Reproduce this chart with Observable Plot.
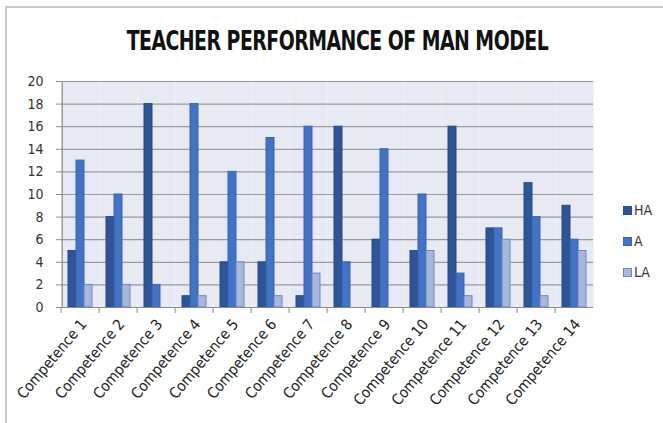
<!DOCTYPE html>
<html>
<head>
<meta charset="utf-8">
<script src="https://cdn.jsdelivr.net/npm/d3@7"></script>
<script src="https://cdn.jsdelivr.net/npm/@observablehq/plot@0.6"></script>
<style>
  html, body { margin: 0; padding: 0; background: #fff; }
  body { width: 663px; height: 423px; position: relative; overflow: hidden; font-family: "DejaVu Sans", sans-serif; font-stretch: condensed; }
  #frame { position: absolute; left: 5px; top: 6px; width: 700px; height: 460px; border-left: 2px solid #c9c9c9; border-top: 2px solid #c9c9c9; }
  #title { position: absolute; left: 0; top: 27px; width: 675px; text-align: center; font-size: 24px; font-weight: bold; color: #111; font-stretch: condensed; letter-spacing: -0.6px; transform: scale(0.875, 1.12); transform-origin: 337px 12px; }
  #chart { position: absolute; left: 0; top: 0; }
  #chart svg text { font-stretch: condensed; }
  #legend { position: absolute; left: 623px; top: 202px; font-size: 14px; color: #333; }
  #legend div { height: 31px; display: flex; align-items: flex-start; }
  #legend span.sw { display: inline-block; width: 9px; height: 9px; margin-right: 2px; margin-top: 4px; box-sizing: border-box; }
</style>
</head>
<body>
<div id="frame"></div>
<div id="title">TEACHER PERFORMANCE OF MAN MODEL</div>
<div id="chart"></div>
<div id="legend"></div>
<script>
const competences = ["Competence 1","Competence 2","Competence 3","Competence 4","Competence 5","Competence 6","Competence 7","Competence 8","Competence 9","Competence 10","Competence 11","Competence 12","Competence 13","Competence 14"];
const seriesNames = ["HA","A","LA"];
const haValues = [5,8,18,1,4,4,1,16,6,5,16,7,11,9];
const aValues  = [13,10,2,18,12,15,16,4,14,10,3,7,8,6];
const laValues = [2,2,0,1,4,1,3,0,0,5,1,6,1,5];
const yTicks = [0,2,4,6,8,10,12,14,16,18,20];
const colors = ["#2f5597","#4472c4","#a8b7de"];
const strokes = ["#264a87","#3963b2","#6f84bd"];

const data = [];
competences.forEach((c, i) => {
  [haValues, aValues, laValues].forEach((arr, j) => {
    data.push({comp: c, series: seriesNames[j], value: arr[i]});
  });
});
const nonZero = data.filter(d => d.value > 0);

const chart = Plot.plot({
  width: 663,
  height: 423,
  marginLeft: 55,
  marginRight: 65,
  marginTop: 81,
  marginBottom: 116,
  style: {fontFamily: "'DejaVu Sans', sans-serif", fontSize: "14px", color: "#333", background: "transparent"},
  fx: {domain: competences, paddingInner: 0, paddingOuter: 0, label: null},
  x: {domain: seriesNames, paddingInner: 0, paddingOuter: 0.643, axis: null},
  y: {domain: [0, 20], label: null},
  color: {domain: seriesNames, range: colors},
  marks: [
    Plot.frame({fill: "#e7e9f3", stroke: null}),
    Plot.gridY(yTicks, {stroke: "#9a9a9a", strokeOpacity: 1, strokeWidth: 1.2}),
    Plot.barY(nonZero, {fx: "comp", x: "series", y: "value", fill: "series", stroke: d => strokes[seriesNames.indexOf(d.series)], strokeWidth: 1}),
    Plot.ruleY([0], {stroke: "#8a8a8a", strokeWidth: 1.2}),
    Plot.ruleX([{comp: competences[0]}], {fx: "comp", x: () => "HA", y1: 0, y2: 20, dx: -10.3, stroke: "#8a8a8a", strokeWidth: 1.2}),
    Plot.axisY(yTicks, {tickSize: 5, text: null, stroke: "#8a8a8a"}),
    Plot.axisY(yTicks, {tickSize: 0, dx: -9, fontSize: 14, fill: "#333"}),
    Plot.axisFx({anchor: "bottom", tickSize: 6, tickFormat: () => "", dx: -19.4, stroke: "#8a8a8a"}),
    Plot.axisFx({anchor: "bottom", tickSize: 0, tickRotate: -50, textAnchor: "end", tickPadding: 14, dx: 3, fontSize: 15, fill: "#222"})
  ]
});
document.getElementById("chart").appendChild(chart);

const legend = document.getElementById("legend");
seriesNames.forEach((s, i) => {
  const row = document.createElement("div");
  const sw = document.createElement("span");
  sw.className = "sw";
  sw.style.background = colors[i];
  sw.style.border = "1px solid " + strokes[i];
  row.appendChild(sw);
  row.appendChild(document.createTextNode(s));
  legend.appendChild(row);
});
</script>
</body>
</html>
